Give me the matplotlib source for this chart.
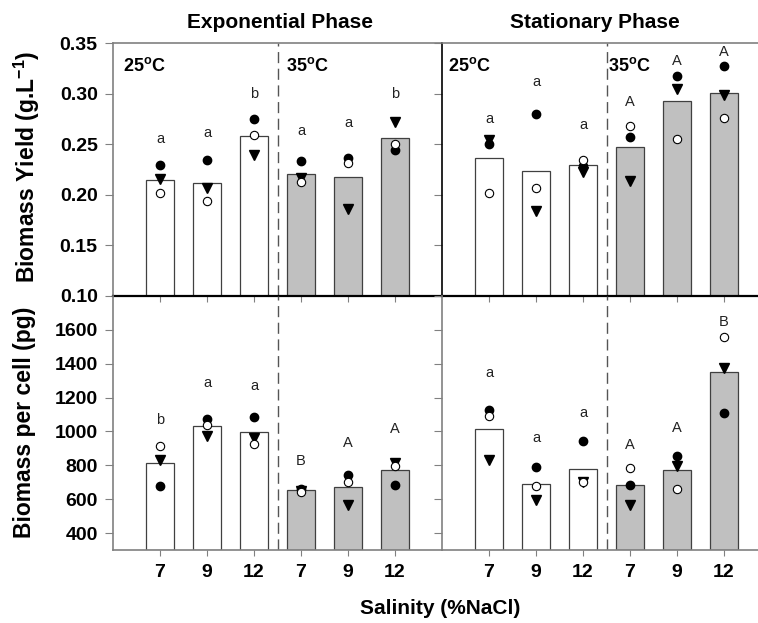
import matplotlib
matplotlib.use("Agg")
import matplotlib.pyplot as plt

plt.rcParams['font.family'] = ['Liberation Sans', 'DejaVu Sans']
plt.rcParams['mathtext.fontset'] = 'custom'
plt.rcParams['mathtext.rm'] = 'Liberation Sans'
plt.rcParams['mathtext.bf'] = 'Liberation Sans:bold'

# ---------------- data ----------------
salinity = ['7', '9', '12', '7', '9', '12']
temps = ['25', '35']

# Exponential phase - biomass yield (g/L)
exp_yield_bar = [0.215, 0.212, 0.258, 0.221, 0.218, 0.256]
exp_yield_filled = [0.229, 0.234, 0.275, 0.233, 0.236, 0.244]
exp_yield_tri = [0.216, 0.207, 0.239, 0.217, 0.186, 0.272]
exp_yield_open = [0.202, 0.194, 0.259, 0.213, 0.231, 0.250]
exp_yield_letters = ['a', 'a', 'b', 'a', 'a', 'b']
exp_yield_letter_at = [0.255, 0.261, 0.300, 0.263, 0.271, 0.300]

# Stationary phase - biomass yield (g/L)
sta_yield_bar = [0.236, 0.224, 0.229, 0.247, 0.293, 0.301]
sta_yield_filled = [0.250, 0.280, 0.228, 0.257, 0.317, 0.327]
sta_yield_tri = [0.254, 0.184, 0.223, 0.214, 0.305, 0.299]
sta_yield_open = [0.202, 0.207, 0.234, 0.268, 0.255, 0.276]
sta_yield_letters = ['a', 'a', 'a', 'A', 'A', 'A']
sta_yield_letter_at = [0.275, 0.311, 0.269, 0.292, 0.332, 0.341]

# Exponential phase - biomass per cell (pg)
exp_cell_bar = [811, 1032, 996, 653, 672, 771]
exp_cell_filled = [676, 1075, 1085, 662, 741, 686]
exp_cell_tri = [834, 976, 963, 650, 568, 815]
exp_cell_open = [917, 1038, 927, 643, 700, 795]
exp_cell_letters = ['b', 'a', 'a', 'B', 'A', 'A']
exp_cell_letter_at = [1067, 1288, 1269, 824, 933, 1016]

# Stationary phase - biomass per cell (pg)
sta_cell_bar = [1012, 690, 781, 682, 773, 1349]
sta_cell_filled = [1126, 789, 943, 686, 858, 1111]
sta_cell_tri = [834, 597, 700, 568, 795, 1377]
sta_cell_open = [1091, 680, 700, 785, 663, 1555]
sta_cell_letters = ['a', 'a', 'a', 'A', 'A', 'B']
sta_cell_letter_at = [1348, 963, 1107, 923, 1022, 1644]

yield_ticks = [0.10, 0.15, 0.20, 0.25, 0.30, 0.35]
cell_ticks = [400, 600, 800, 1000, 1200, 1400, 1600]

# ---------------- figure ----------------
W, H = 758, 623
fig = plt.figure(figsize=(W / 100, H / 100), dpi=100)

def fx(px):
    return px / W

def fy(py):
    return 1 - py / H

x_left, x_mid = 113, 442
pw = x_mid - x_left
y_top, y_mid, y_bot = 43, 296, 550

ax_tl = fig.add_axes([fx(x_left), fy(y_mid), pw / W, (y_mid - y_top) / H])
ax_tr = fig.add_axes([fx(x_mid), fy(y_mid), pw / W, (y_mid - y_top) / H])
ax_bl = fig.add_axes([fx(x_left), fy(y_bot), pw / W, (y_bot - y_mid) / H])
ax_br = fig.add_axes([fx(x_mid), fy(y_bot), pw / W, (y_bot - y_mid) / H])

positions = [1, 2, 3, 4, 5, 6]
bar_colors = ['white'] * 3 + ['#c0c0c0'] * 3

panels = [
    (ax_tl, exp_yield_bar, exp_yield_filled, exp_yield_tri, exp_yield_open,
     exp_yield_letters, exp_yield_letter_at, (0.10, 0.35), yield_ticks, True, True),
    (ax_tr, sta_yield_bar, sta_yield_filled, sta_yield_tri, sta_yield_open,
     sta_yield_letters, sta_yield_letter_at, (0.10, 0.35), yield_ticks, False, True),
    (ax_bl, exp_cell_bar, exp_cell_filled, exp_cell_tri, exp_cell_open,
     exp_cell_letters, exp_cell_letter_at, (300, 1800), cell_ticks, True, False),
    (ax_br, sta_cell_bar, sta_cell_filled, sta_cell_tri, sta_cell_open,
     sta_cell_letters, sta_cell_letter_at, (300, 1800), cell_ticks, False, False),
]

grey = '#808080'
for (ax, bars, filled, tri, opn, letters, letter_at, ylim, yticks,
     left_labels, is_top) in panels:
    ax.patch.set_alpha(0)
    ax.set_xlim(0, 7)
    ax.set_ylim(*ylim)
    base = ylim[0]
    ax.bar(positions, [b - base for b in bars], bottom=base, width=0.6,
           color=bar_colors, edgecolor='#404040', linewidth=0.9, zorder=2)
    ax.plot(positions, filled, 'o', color='black', ms=6, zorder=4)
    ax.plot(positions, tri, 'v', color='black', ms=6.5, zorder=4)
    ax.plot(positions, opn, 'o', mfc='white', mec='black', mew=0.8, ms=6, zorder=5)
    for p, lab, ly in zip(positions, letters, letter_at):
        ax.text(p, ly, lab, ha='center', va='center', fontsize=10.5, color='#222222', zorder=6)
    ax.axvline(3.5, color='#555555', lw=1.0, ls=(0, (8, 4)), zorder=1)

    ax.set_yticks(yticks)
    if is_top:
        ax.set_yticklabels([f'{t:.2f}' for t in yticks])
    else:
        ax.set_yticklabels([str(t) for t in yticks])
    ax.tick_params(axis='y', direction='out', length=6, width=0.8, color=grey,
                   labelleft=left_labels, labelsize=14, pad=5)
    for lbl in ax.get_yticklabels():
        lbl.set_fontweight('bold')
    ax.set_xticks(positions)
    if is_top:
        ax.tick_params(axis='x', direction='out', length=4, width=0.8, color=grey,
                       labelbottom=False)
    else:
        ax.set_xticklabels(salinity)
        ax.tick_params(axis='x', direction='out', length=4, width=0.8, color=grey,
                       labelsize=14, pad=6)
        for lbl in ax.get_xticklabels():
            lbl.set_fontweight('bold')

    ax.spines['right'].set_visible(False)
    if is_top:
        ax.spines['top'].set_color(grey)
        ax.spines['top'].set_linewidth(1.2)
        ax.spines['bottom'].set_color('black')
        ax.spines['bottom'].set_linewidth(1.6)
        ax.spines['bottom'].set_zorder(3)
    else:
        ax.spines['top'].set_visible(False)
        ax.spines['bottom'].set_color(grey)
        ax.spines['bottom'].set_linewidth(1.2)
    if left_labels:
        ax.spines['left'].set_color(grey)
        ax.spines['left'].set_linewidth(1.2)
    else:
        ax.spines['left'].set_color('black' if is_top else grey)
        ax.spines['left'].set_linewidth(1.2)

# temperature labels
for ax in (ax_tl, ax_tr):
    ax.text(0.03 if ax is ax_tl else 0.018, 0.91, temps[0] + r'$^{\mathbf{o}}$C',
            transform=ax.transAxes, fontsize=13, fontweight='bold', va='center', ha='left')
    ax.text(0.526 if ax is ax_tl else 0.505, 0.91, temps[1] + r'$^{\mathbf{o}}$C',
            transform=ax.transAxes, fontsize=13, fontweight='bold', va='center', ha='left')

# titles
fig.text(fx(280), fy(23), 'Exponential Phase', ha='center', va='center',
         fontsize=15, fontweight='bold')
fig.text(fx(595), fy(23), 'Stationary Phase', ha='center', va='center',
         fontsize=15, fontweight='bold')

# axis labels
fig.text(fx(27), fy(167), r'Biomass Yield (g.L$^{\mathbf{-1}}$)', rotation=90,
         ha='center', va='center', fontsize=16.5, fontweight='bold')
fig.text(fx(25), fy(422), 'Biomass per cell (pg)', rotation=90,
         ha='center', va='center', fontsize=16.5, fontweight='bold')
fig.text(fx(440), fy(609), 'Salinity (%NaCl)', ha='center', va='center',
         fontsize=15, fontweight='bold')

fig.savefig('out.png', dpi=100)
